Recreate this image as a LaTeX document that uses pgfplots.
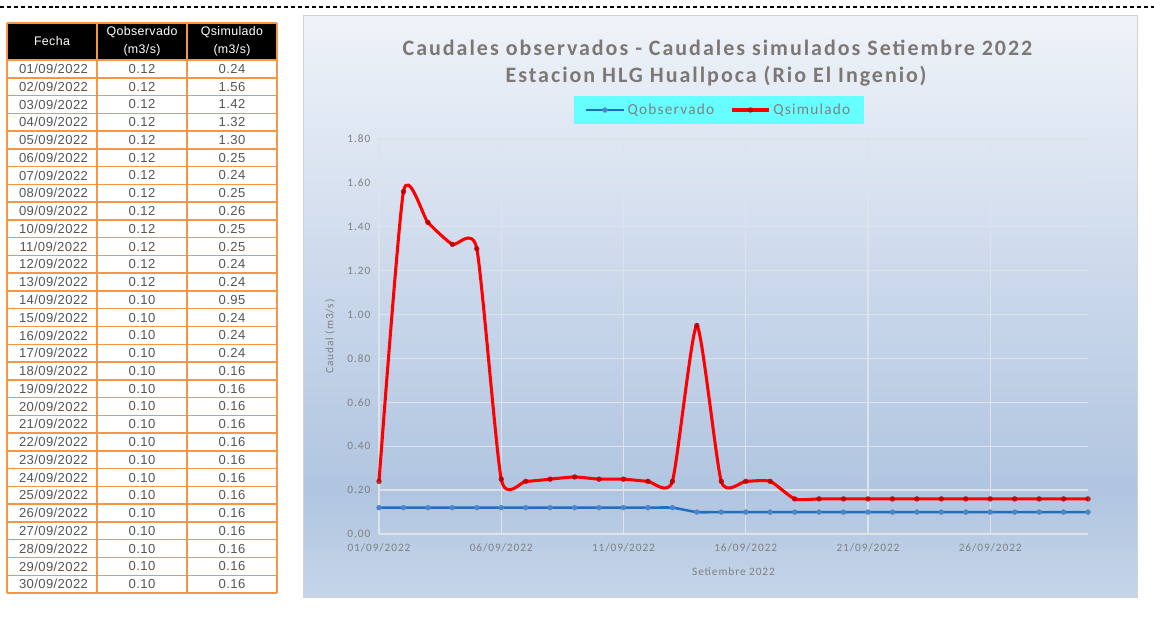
\documentclass[border=0pt]{standalone}
\usepackage{pgfplots}
\pgfplotsset{compat=1.18}
\usepackage{pgfplotstable}
\usepackage{fontspec}
\setmainfont{Carlito}
\newfontfamily\titlef{Carlito}[LetterSpace=9]
\newfontfamily\tickf{Carlito}[LetterSpace=8]
\newfontfamily\arialf{Liberation Sans}[LetterSpace=3]

\definecolor{orangeb}{HTML}{F79646}
\definecolor{titlec}{HTML}{7D7873}
\definecolor{tickc}{HTML}{808080}
\definecolor{gridc}{HTML}{DEE2E9}
\definecolor{legc}{HTML}{66FFFF}
\definecolor{obsc}{HTML}{1F6FC0}
\definecolor{obsm}{HTML}{4F85C8}
\definecolor{simc}{HTML}{FF0000}
\definecolor{tabtext}{HTML}{555555}
\definecolor{pbot}{HTML}{C6D5E9}
\definecolor{pmid}{HTML}{B0C5E0}
\definecolor{pup}{HTML}{C8D6EA}
\definecolor{ptop}{HTML}{EFF3F9}
\pgfdeclareverticalshading{panel}{100bp}{color(0bp)=(pbot); color(25bp)=(pbot); color(34bp)=(pmid); color(50bp)=(pup); color(75bp)=(ptop); color(100bp)=(ptop)}

\pgfplotstableread{
day obs sim
1 0.12 0.24
2 0.12 1.56
3 0.12 1.42
4 0.12 1.32
5 0.12 1.30
6 0.12 0.25
7 0.12 0.24
8 0.12 0.25
9 0.12 0.26
10 0.12 0.25
11 0.12 0.25
12 0.12 0.24
13 0.12 0.24
14 0.10 0.95
15 0.10 0.24
16 0.10 0.24
17 0.10 0.24
18 0.10 0.16
19 0.10 0.16
20 0.10 0.16
21 0.10 0.16
22 0.10 0.16
23 0.10 0.16
24 0.10 0.16
25 0.10 0.16
26 0.10 0.16
27 0.10 0.16
28 0.10 0.16
29 0.10 0.16
30 0.10 0.16
}\datatable

\begin{document}
\begin{tikzpicture}
\useasboundingbox (0,0) rectangle (865.5pt,-464.25pt);
\begin{scope}[x=0.75pt,y=-0.75pt]
  \fill[white] (0,0) rectangle (1154,619);
  \draw[black, dash pattern=on 3pt off 2.2pt, line width=0.8pt] (0,7) -- (1154,7);
  % chart panel
  \shade[shading=panel] (303,15) rectangle (1137,597);
  \draw[gray!35, line width=0.6pt] (303,15) rectangle (1137,597);
  % titles
  \node[text=titlec, font=\titlef\bfseries\fontsize{16.5}{19}\selectfont] at (717.5,48) {Caudales observados - Caudales simulados Setiembre 2022};
  \node[text=titlec, font=\titlef\bfseries\fontsize{16.5}{19}\selectfont] at (716,76) {Estacion HLG Huallpoca (Rio El Ingenio)};
  % table
  \fill[black] (7,23) rectangle (277,60);
  \foreach \i in {0,...,30} \draw[orangeb, line width=1.1pt] (7,{60+\i*17.767}) -- (277,{60+\i*17.767});
  \draw[orangeb, line width=1.1pt] (7,23) -- (277,23);
  \foreach \x in {7,97,187,277} \draw[orangeb, line width=1.1pt] (\x,23) -- (\x,593.2);
  \begin{scope}[every node/.style={text=white, font=\arialf\fontsize{9.3}{10}\selectfont, inner sep=0pt}]
    \node at (52,41.5) {Fecha};
    \node at (142,32) {Qobservado};
    \node at (142,50) {(m3/s)};
    \node at (232,32) {Qsimulado};
    \node at (232,50) {(m3/s)};
  \end{scope}
  \foreach \d/\o/\s [count=\i from 0] in {01/0.12/0.24,02/0.12/1.56,03/0.12/1.42,04/0.12/1.32,05/0.12/1.30,06/0.12/0.25,07/0.12/0.24,08/0.12/0.25,09/0.12/0.26,10/0.12/0.25,11/0.12/0.25,12/0.12/0.24,13/0.12/0.24,14/0.10/0.95,15/0.10/0.24,16/0.10/0.24,17/0.10/0.24,18/0.10/0.16,19/0.10/0.16,20/0.10/0.16,21/0.10/0.16,22/0.10/0.16,23/0.10/0.16,24/0.10/0.16,25/0.10/0.16,26/0.10/0.16,27/0.10/0.16,28/0.10/0.16,29/0.10/0.16,30/0.10/0.16}{
    \begin{scope}[every node/.style={text=tabtext, font=\arialf\fontsize{9.8}{10}\selectfont, inner sep=0pt}]
      \node at (53.5,{60+(\i+0.5)*17.767}) {\d/09/2022};
      \node at (142,{60+(\i+0.5)*17.767}) {\o};
      \node at (232,{60+(\i+0.5)*17.767}) {\s};
    \end{scope}
  }
\end{scope}

\begin{axis}[
  at={(284.25pt,-400.5pt)}, anchor=south west,
  scale only axis, width=531.75pt, height=296.25pt,
  xmin=1, xmax=30, ymin=0, ymax=1.8,
  axis line style={draw=none},
  tick style={draw=none},
  xtick={1,6,11,16,21,26},
  xticklabels={01/09/2022,06/09/2022,11/09/2022,16/09/2022,21/09/2022,26/09/2022},
  ytick={0,0.2,0.4,0.6,0.8,1.0,1.2,1.4,1.6,1.8},
  ticklabel style={font=\tickf\fontsize{8.5}{10}\selectfont, text=tickc},
  xticklabel style={yshift=-3.5pt},
  yticklabel style={xshift=-3pt, /pgf/number format/.cd, fixed, fixed zerofill, precision=2, assume math mode=true},
  grid=major,
  major grid style={color=gridc, line width=1pt},
  xlabel={Setiembre 2022},
  ylabel={Caudal (m3/s)},
  xlabel style={at={(axis description cs:0.5,-0.094)}, anchor=center, font=\tickf\fontsize{8.5}{10}\selectfont, text=tickc},
  ylabel style={at={(axis description cs:-0.069,0.5)}, anchor=center, font=\tickf\fontsize{8.5}{10}\selectfont, text=tickc},
  legend columns=2,
  legend style={at={(axis description cs:0.4795,1.0734)}, anchor=center, draw=none, fill=legc,
    font=\tickf\fontsize{11.5}{13}\selectfont, text=tickc, inner xsep=8pt, inner ysep=4pt,
    /tikz/every even column/.append style={column sep=10pt}},
  legend image code/.code={\draw[mark repeat=2,mark phase=2,#1] plot coordinates {(0pt,0pt) (14pt,0pt) (28pt,0pt)};},
  clip=false,
]
\addplot[color=obsc, line width=1.9pt, smooth, tension=0.35, mark=*, mark size=1.8pt, mark options={fill=obsm, draw=obsm, line width=0.4pt}] table[x=day, y=obs] {\datatable};
\addlegendentry{Qobservado}
\addplot[color=simc, line width=2.3pt, smooth, tension=0.35, mark=*, mark size=1.8pt, mark options={fill=red!70!black, draw=red!65!black, line width=0.4pt, opacity=0.75}] table[x=day, y=sim] {\datatable};
\addlegendentry{Qsimulado}
\end{axis}
\end{tikzpicture}
\end{document}
